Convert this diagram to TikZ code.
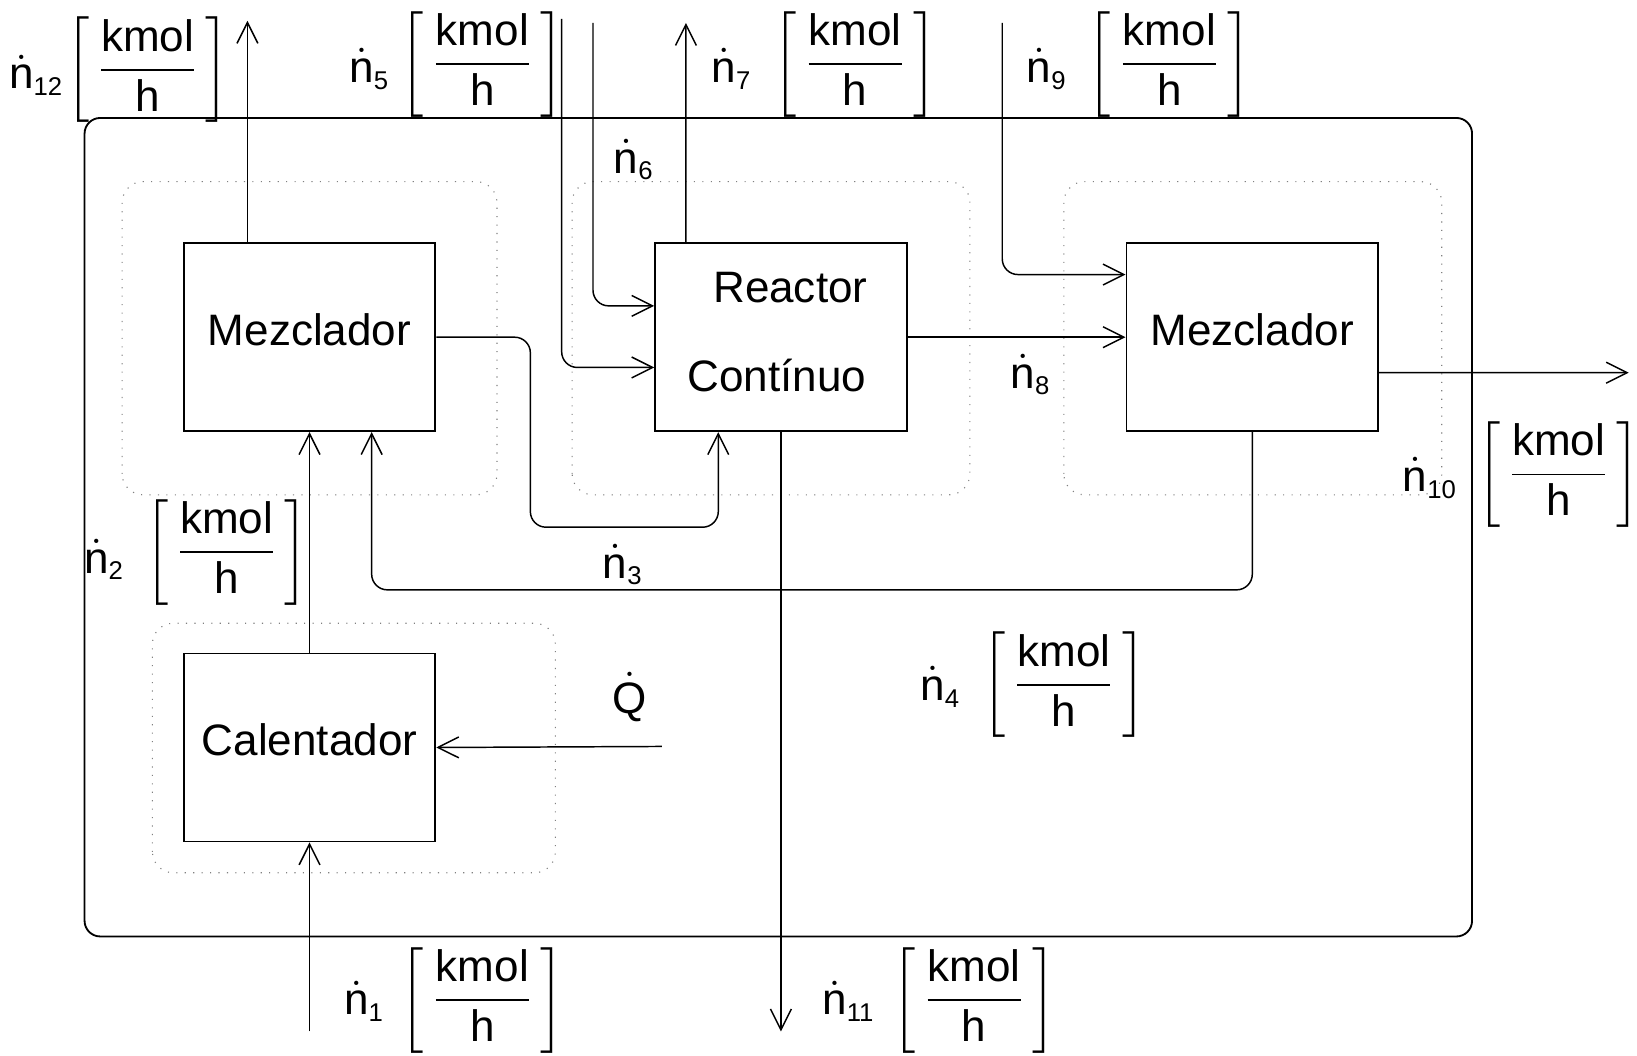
\documentclass[tikz,border=0pt]{standalone}
\usepackage{amsmath}
\usepackage{fontspec}
\setmainfont{Liberation Sans}
\usetikzlibrary{arrows.meta}

\newcommand{\caudal}[1]{$\dot{\mbox{n}}_{\mbox{\fontsize{7}{8}\selectfont#1}}$}
\newcommand{\unidad}{$\left[\,\dfrac{\mbox{kmol}}{\mbox{h}}\,\right]$}

\begin{document}
\begin{tikzpicture}[font=\fontsize{12}{14.4}\selectfont,
  bloque/.style={draw,line width=.5pt,minimum width=2.41cm,minimum height=1.8cm,inner sep=0pt,text depth=.15cm},
  zona/.style={draw=gray,dotted,line width=.3pt,rounded corners=.2cm},
  flujo/.style={-{Straight Barb[length=.2cm,width=.2cm]},line width=.4pt,rounded corners=.15cm},
  etiqueta/.style={inner sep=1pt}]
\useasboundingbox (0,0) rectangle (15.68,10.11);
% volumen de control
\draw[line width=.5pt,rounded corners=.15cm] (.81,1.14) rectangle (14.10,8.98);
% subsistemas
\draw[zona] (1.17,5.37) rectangle (4.76,8.37);
\draw[zona] (5.48,5.37) rectangle (9.29,8.37);
\draw[zona] (10.19,5.37) rectangle (13.81,8.37);
\draw[zona] (1.46,1.75) rectangle (5.32,4.14);
% equipos
\node[bloque] (mezA) at (2.965,6.88) {Mezclador};
\node[bloque] (reactor) at (7.48,6.88) {};
\node[etiqueta] (reactortxt) at (7.57,7.36) {Reactor};
\node[etiqueta] (continuotxt) at (7.44,6.51) {Contínuo};
\node[bloque] (mezB) at (11.995,6.88) {Mezclador};
\node[bloque] (calent) at (2.965,2.95) {Calentador};
% extremos libres
\coordinate (e1) at (2.965,.23);
\coordinate (e5) at (5.38,9.93);
\coordinate (e6) at (5.68,9.89);
\coordinate (e9) at (9.60,9.89);
\coordinate (eQ) at (6.34,2.96);
\coordinate (s7) at (6.57,9.89);
\coordinate (s10) at (15.60,6.54);
\coordinate (s11) at (7.48,.23);
\coordinate (s12) at (2.37,9.91);
% corrientes
\draw[flujo] (e1) -- (calent.south);
\draw[flujo] (calent.north) -- (mezA.south);
\draw[flujo] (mezA.east) -| (5.08,5.06) -| ([xshift=-.6cm]reactor.south);
\draw[flujo] (mezB.south) |- (3.56,4.46) -- ([xshift=.595cm]mezA.south);
\draw[flujo] ([xshift=-.595cm]mezA.north) -- (s12);
\draw[flujo] (e5) |- ([yshift=-.29cm]reactor.west);
\draw[flujo] (e6) |- ([yshift=.30cm]reactor.west);
\draw[flujo] ([xshift=-.91cm]reactor.north) -- (s7);
\draw[flujo] (reactor.east) -- (mezB.west);
\draw[flujo] (e9) |- ([yshift=.60cm]mezB.west);
\draw[flujo] ([yshift=-.34cm]mezB.east) -- (s10);
\draw[flujo] (reactor.south) -- (s11);
\draw[flujo] (eQ) -- (calent.east);
% etiquetas
\node[etiqueta] (n12) at (.35,9.39) {\caudal{12}};
\node[etiqueta] (u12) at (1.415,9.44) {\unidad};
\node[etiqueta] (n5) at (3.54,9.45) {\caudal{5}};
\node[etiqueta] (u5) at (4.62,9.495) {\unidad};
\node[etiqueta] (n6) at (6.075,8.58) {\caudal{6}};
\node[etiqueta] (n7) at (7.01,9.45) {\caudal{7}};
\node[etiqueta] (u7) at (8.19,9.495) {\unidad};
\node[etiqueta] (n9) at (10.03,9.45) {\caudal{9}};
\node[etiqueta] (u9) at (11.20,9.495) {\unidad};
\node[etiqueta] (n8) at (9.875,6.52) {\caudal{8}};
\node[etiqueta] (n10) at (13.70,5.53) {\caudal{10}};
\node[etiqueta] (u10) at (14.93,5.565) {\unidad};
\node[etiqueta] (n2) at (1.00,4.75) {\caudal{2}};
\node[etiqueta] (u2) at (2.17,4.82) {\unidad};
\node[etiqueta] (n3) at (5.97,4.70) {\caudal{3}};
\node[etiqueta] (q) at (6.03,3.43) {$\dot{\mbox{Q}}$};
\node[etiqueta] (n4) at (9.01,3.53) {\caudal{4}};
\node[etiqueta] (u4) at (10.19,3.55) {\unidad};
\node[etiqueta] (n1) at (3.49,.52) {\caudal{1}};
\node[etiqueta] (u1) at (4.62,.53) {\unidad};
\node[etiqueta] (n11) at (8.13,.52) {\caudal{11}};
\node[etiqueta] (u11) at (9.33,.53) {\unidad};
\end{tikzpicture}
\end{document}
